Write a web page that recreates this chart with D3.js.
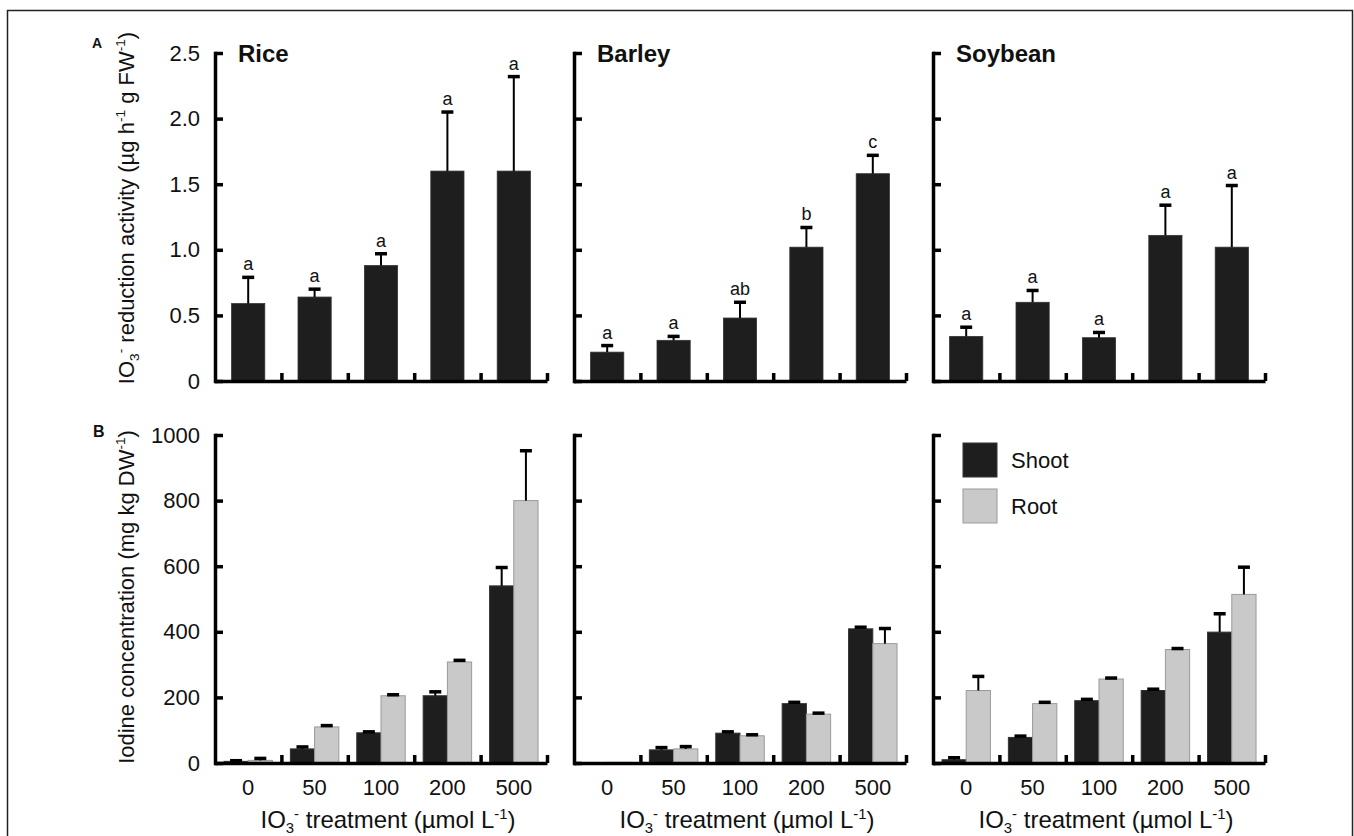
<!DOCTYPE html>
<html>
<head>
<meta charset="utf-8">
<script src="https://cdn.jsdelivr.net/npm/d3@7"></script>
<style>
  body { margin: 0; background: #fff; }
  text { font-family: "Liberation Sans", Arial, Helvetica, sans-serif; fill: #111; }
</style>
</head>
<body>
<div id="chart"></div>
<script>
var width = 1354,
    height = 836;

// treatments and crops
var categories = ["0", "50", "100", "200", "500"];
var crops = ["Rice", "Barley", "Soybean"];

// A: IO3- reduction activity, mean and sd (upper error bar)
var redRice = [0.59, 0.64, 0.88, 1.60, 1.60],
    redRiceSd = [0.20, 0.06, 0.09, 0.45, 0.72],
    redBarley = [0.22, 0.31, 0.48, 1.02, 1.58],
    redBarleySd = [0.05, 0.03, 0.12, 0.15, 0.14],
    redSoy = [0.34, 0.60, 0.33, 1.11, 1.02],
    redSoySd = [0.07, 0.09, 0.04, 0.23, 0.47];
var lettersRice = ["a", "a", "a", "a", "a"],
    lettersBarley = ["a", "a", "ab", "b", "c"],
    lettersSoy = ["a", "a", "a", "a", "a"];

// B: iodine concentration, shoot and root
var shootRice = [5, 43, 92, 205, 540],
    shootRiceSd = [2, 6, 3, 12, 56],
    rootRice = [8, 110, 205, 308, 800],
    rootRiceSd = [6, 4, 3, 5, 152],
    shootBarley = [1, 40, 91, 181, 409],
    shootBarleySd = [0, 7, 4, 4, 5],
    rootBarley = [2, 43, 83, 149, 364],
    rootBarleySd = [0, 7, 3, 3, 46],
    shootSoy = [10, 78, 190, 221, 399],
    shootSoySd = [6, 4, 4, 4, 56],
    rootSoy = [221, 181, 256, 346, 514],
    rootSoySd = [43, 4, 3, 3, 83];

var redTicks = [0, 0.5, 1.0, 1.5, 2.0, 2.5],
    iodTicks = [0, 200, 400, 600, 800, 1000];
var series = ["Shoot", "Root"];

var reduction = [
  {mean: redRice, sd: redRiceSd, letters: lettersRice},
  {mean: redBarley, sd: redBarleySd, letters: lettersBarley},
  {mean: redSoy, sd: redSoySd, letters: lettersSoy}
];
var iodine = [
  {Shoot: [shootRice, shootRiceSd], Root: [rootRice, rootRiceSd]},
  {Shoot: [shootBarley, shootBarleySd], Root: [rootBarley, rootBarleySd]},
  {Shoot: [shootSoy, shootSoySd], Root: [rootSoy, rootSoySd]}
];

var colX = [215, 574, 933],
    rowY = [53, 435],
    W = 332,
    H = 328;
var colour = {Shoot: "#1e1e1e", Root: "#c9c9c9"};

var svg = d3.select('#chart').append('svg')
    .attr('width', width)
    .attr('height', height);

// outer frame (bottom edge is cut off)
svg.append('rect')
    .attr('x', 7.5).attr('y', 10.5)
    .attr('width', 1345).attr('height', 900)
    .attr('fill', 'none').attr('stroke', '#222').attr('stroke-width', 1.5);

// text with sub/superscripts, segments: [text, 'sub'|'sup'|null]
function richText(sel, parts, size) {
  var shift = 0;
  parts.forEach(function (p) {
    var target = p[1] === 'sub' ? 5 : (p[1] === 'sup' ? -9 : 0);
    sel.append('tspan')
      .attr('dy', target - shift)
      .style('font-size', p[1] ? (size * 0.62) + 'px' : size + 'px')
      .text(p[0]);
    shift = target;
  });
}

var xBand = d3.scaleBand().domain(categories).range([0, W])
    .paddingInner(0.5).paddingOuter(0.25);
var xGroup = d3.scaleBand().domain(categories).range([0, W])
    .paddingInner(0.27).paddingOuter(0.135);
var xSeries = d3.scaleBand().domain(series).range([0, xGroup.bandwidth()]);
var xEdge = d3.scaleLinear().domain([0, 5]).range([0, W]);

var yRed = d3.scaleLinear().domain([0, 2.5]).range([H, 0]);
var yIod = d3.scaleLinear().domain([0, 1000]).range([H, 0]);

function drawAxes(g, y, ticks, fmt, showLabels) {
  var ya = d3.axisLeft(y).tickValues(ticks).tickSize(-8).tickSizeOuter(0)
      .tickPadding(15)
      .tickFormat(showLabels ? fmt : "");
  var gy = g.append('g').call(ya);
  var xa = d3.axisBottom(xEdge).tickValues([1, 2, 3, 4, 5]).tickSize(-8)
      .tickSizeOuter(0).tickFormat("");
  var gx = g.append('g').attr('transform', 'translate(0,' + H + ')').call(xa);
  [gy, gx].forEach(function (a) {
    a.selectAll('path, line').attr('stroke', '#000').attr('stroke-width', 3.5);
    a.selectAll('text').style('font-size', '22px').attr('fill', '#111')
      .style('font-family', '"Liberation Sans", Arial, sans-serif');
  });
  gy.select('path').attr('stroke-linecap', 'square');
}

function errBar(g, cx, y0, y1) {
  g.append('line').attr('x1', cx).attr('x2', cx).attr('y1', y0).attr('y2', y1)
    .attr('stroke', '#000').attr('stroke-width', 2);
  g.append('line').attr('x1', cx - 6).attr('x2', cx + 6).attr('y1', y1).attr('y2', y1)
    .attr('stroke', '#000').attr('stroke-width', 3.5);
}

crops.forEach(function (crop, c) {
  // ---- row A
  var gA = svg.append('g').attr('transform', 'translate(' + colX[c] + ',' + rowY[0] + ')');
  var d = reduction[c];
  gA.selectAll('rect').data(categories).enter().append('rect')
    .attr('x', function (k) { return xBand(k); })
    .attr('width', xBand.bandwidth())
    .attr('y', function (k, i) { return yRed(d.mean[i]); })
    .attr('height', function (k, i) { return H - yRed(d.mean[i]); })
    .attr('fill', '#1e1e1e').attr('stroke', '#333').attr('stroke-width', 0.8);
  categories.forEach(function (k, i) {
    var cx = xBand(k) + xBand.bandwidth() / 2;
    var top = yRed(d.mean[i] + d.sd[i]);
    errBar(gA, cx, yRed(d.mean[i]), top);
    gA.append('text').attr('x', cx).attr('y', top - 7)
      .attr('text-anchor', 'middle').style('font-size', '18px').text(d.letters[i]);
  });
  drawAxes(gA, yRed, redTicks, function (v) { return v === 0 ? "0" : d3.format(".1f")(v); }, c === 0);
  gA.append('text').attr('x', 23).attr('y', 9)
    .style('font-size', '24px').style('font-weight', 'bold').text(crop);

  // ---- row B
  var gB = svg.append('g').attr('transform', 'translate(' + colX[c] + ',' + rowY[1] + ')');
  var e = iodine[c];
  categories.forEach(function (k, i) {
    series.forEach(function (s) {
      var v = e[s][0][i], sd = e[s][1][i];
      var x0 = xGroup(k) + xSeries(s);
      gB.append('rect')
        .attr('x', x0).attr('width', xSeries.bandwidth())
        .attr('y', yIod(v)).attr('height', H - yIod(v))
        .attr('fill', colour[s])
        .attr('stroke', s === 'Root' ? '#9a9a9a' : '#333').attr('stroke-width', 1);
      if (sd > 0) errBar(gB, x0 + xSeries.bandwidth() / 2, yIod(v), yIod(v + sd));
    });
  });
  drawAxes(gB, yIod, iodTicks, d3.format("d"), c === 0);

  // category labels
  var gl = gB.append('g').attr('transform', 'translate(0,' + H + ')')
    .call(d3.axisBottom(xBand).tickSize(0).tickPadding(16));
  gl.select('.domain').remove();
  gl.selectAll('text').style('font-size', '22px').attr('fill', '#111')
    .style('font-family', '"Liberation Sans", Arial, sans-serif');

  var xt = gB.append('text').attr('x', W / 2 + 7).attr('y', 393)
    .attr('text-anchor', 'middle');
  richText(xt, [["IO", null], ["3", "sub"], ["-", "sup"], [" treatment (µmol L", null], ["-1", "sup"], [")", null]], 24);
});

// y axis titles
var ytA = svg.append('text')
  .attr('transform', 'translate(134,208) rotate(-90)')
  .attr('text-anchor', 'middle');
richText(ytA, [["IO", null], ["3", "sub"], ["-", "sup"], [" reduction activity (µg h", null], ["-1", "sup"], [" g FW", null], ["-1", "sup"], [")", null]], 22);

var ytB = svg.append('text')
  .attr('transform', 'translate(134,597) rotate(-90)')
  .attr('text-anchor', 'middle');
richText(ytB, [["Iodine concentration (mg kg DW", null], ["-1", "sup"], [")", null]], 22);

// panel letters
svg.append('text').attr('x', 92).attr('y', 48)
  .style('font-size', '14px').style('font-weight', 'bold').text('A');
svg.append('text').attr('x', 93).attr('y', 437)
  .style('font-size', '16px').style('font-weight', 'bold').text('B');

// legend
var lg = svg.append('g').attr('transform', 'translate(963,443)');
series.forEach(function (s, i) {
  lg.append('rect').attr('x', 0).attr('y', i * 46).attr('width', 34).attr('height', 34)
    .attr('fill', colour[s]).attr('stroke', s === 'Root' ? '#9a9a9a' : '#333');
  lg.append('text').attr('x', 48).attr('y', i * 46 + 25)
    .style('font-size', '22px').text(s);
});
</script>
</body>
</html>
